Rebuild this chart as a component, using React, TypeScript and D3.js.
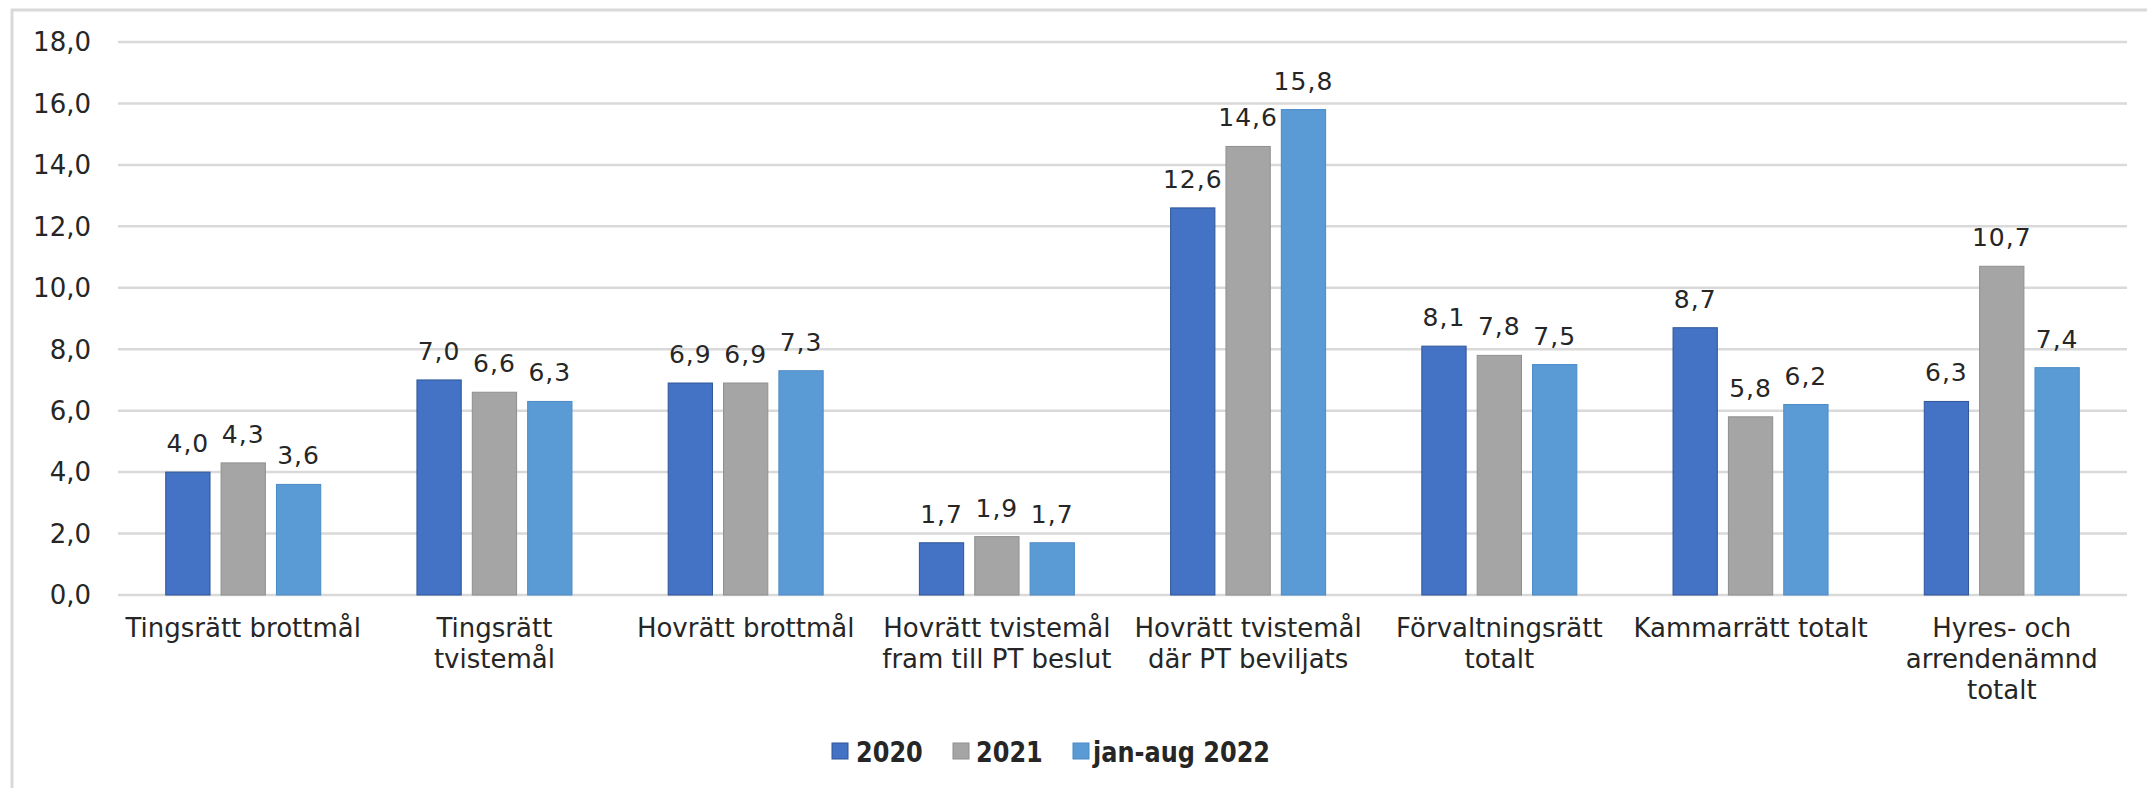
import * as d3 from 'd3';

const categories = [
  'Tingsrätt brottmål',
  'Tingsrätt tvistemål',
  'Hovrätt brottmål',
  'Hovrätt tvistemål fram till PT beslut',
  'Hovrätt tvistemål där PT beviljats',
  'Förvaltningsrätt totalt',
  'Kammarrätt totalt',
  'Hyres- och arrendenämnd totalt',
];

// wrapped tick labels, as they appear under each group
const categoryLines = [
  ['Tingsrätt brottmål'],
  ['Tingsrätt', 'tvistemål'],
  ['Hovrätt brottmål'],
  ['Hovrätt tvistemål', 'fram till PT beslut'],
  ['Hovrätt tvistemål', 'där PT beviljats'],
  ['Förvaltningsrätt', 'totalt'],
  ['Kammarrätt totalt'],
  ['Hyres- och', 'arrendenämnd', 'totalt'],
];

const seriesNames = ['2020', '2021', 'jan-aug 2022'];
const values2020 = [4.0, 7.0, 6.9, 1.7, 12.6, 8.1, 8.7, 6.3];
const values2021 = [4.3, 6.6, 6.9, 1.9, 14.6, 7.8, 5.8, 10.7];
const values2022 = [3.6, 6.3, 7.3, 1.7, 15.8, 7.5, 6.2, 7.4];
const yTicks = [0, 2, 4, 6, 8, 10, 12, 14, 16, 18];

const fills = ['#4472c4', '#a5a5a5', '#5b9bd5'];
const strokes = ['#2f5597', '#8f8f8f', '#4a8ac6'];

const W = 2147;
const H = 788;
const font = "'DejaVu Sans', Verdana, sans-serif";
const fmt = (v: number) => v.toFixed(1).replace('.', ',');

export default function App() {
  const series = [values2020, values2021, values2022];

  const x = d3
    .scaleBand<string>()
    .domain(categories)
    .range([118, 2127])
    .paddingInner(0.383)
    .paddingOuter(0.19);

  const xs = d3
    .scaleBand<string>()
    .domain(seriesNames)
    .range([0, x.bandwidth()])
    .paddingInner(0.2)
    .paddingOuter(0);

  const y = d3.scaleLinear().domain([0, 18]).range([595, 42]);

  const legendItems = [
    { name: seriesNames[0], x: 832, textX: 856 },
    { name: seriesNames[1], x: 953, textX: 976 },
    { name: seriesNames[2], x: 1073, textX: 1093 },
  ];

  return (
    <div style={{ position: 'fixed', left: 0, top: 0 }}>
      <svg width={W} height={H} style={{ display: 'block', background: '#fff' }} fontFamily={font}>
        <rect x={12} y={10} width={W + 20} height={H + 20} fill="#fff" stroke="#d9d9d9" strokeWidth={3} />

        {yTicks.map((t) => (
          <g key={t}>
            <line x1={118} x2={2127} y1={y(t)} y2={y(t)} stroke="#d9d9d9" strokeWidth={2.5} />
            <text x={91} y={y(t)} dy="0.36em" textAnchor="end" fontSize={26} fill="#262626">
              {fmt(t)}
            </text>
          </g>
        ))}

        {categories.map((c, i) => (
          <g key={c} transform={`translate(${x(c)},0)`}>
            {series.map((vals, s) => {
              const bx = xs(seriesNames[s]) as number;
              const v = vals[i];
              return (
                <g key={s}>
                  <rect
                    x={bx}
                    y={y(v)}
                    width={xs.bandwidth()}
                    height={y(0) - y(v)}
                    fill={fills[s]}
                    stroke={strokes[s]}
                    strokeWidth={1}
                  />
                  <text
                    x={bx + xs.bandwidth() / 2}
                    y={y(v) - 20}
                    textAnchor="middle"
                    fontSize={25}
                    letterSpacing={1}
                    fill="#262626"
                  >
                    {fmt(v)}
                  </text>
                </g>
              );
            })}
          </g>
        ))}

        {categories.map((c, i) => (
          <text
            key={c}
            x={(x(c) as number) + x.bandwidth() / 2}
            y={637}
            textAnchor="middle"
            fontSize={26}
            fill="#262626"
          >
            {categoryLines[i].map((line, j) => (
              <tspan key={j} x={(x(c) as number) + x.bandwidth() / 2} dy={j === 0 ? 0 : 31}>
                {line}
              </tspan>
            ))}
          </text>
        ))}

        {legendItems.map((l, i) => (
          <g key={l.name}>
            <rect x={l.x} y={743} width={16} height={16} fill={fills[i]} stroke={strokes[i]} strokeWidth={1} />
            <text
              transform={`translate(${l.textX},762) scale(1,1.2)`}
              fontSize={24}
              fontWeight="bold"
              fill="#262626"
            >
              {l.name}
            </text>
          </g>
        ))}
      </svg>
    </div>
  );
}
